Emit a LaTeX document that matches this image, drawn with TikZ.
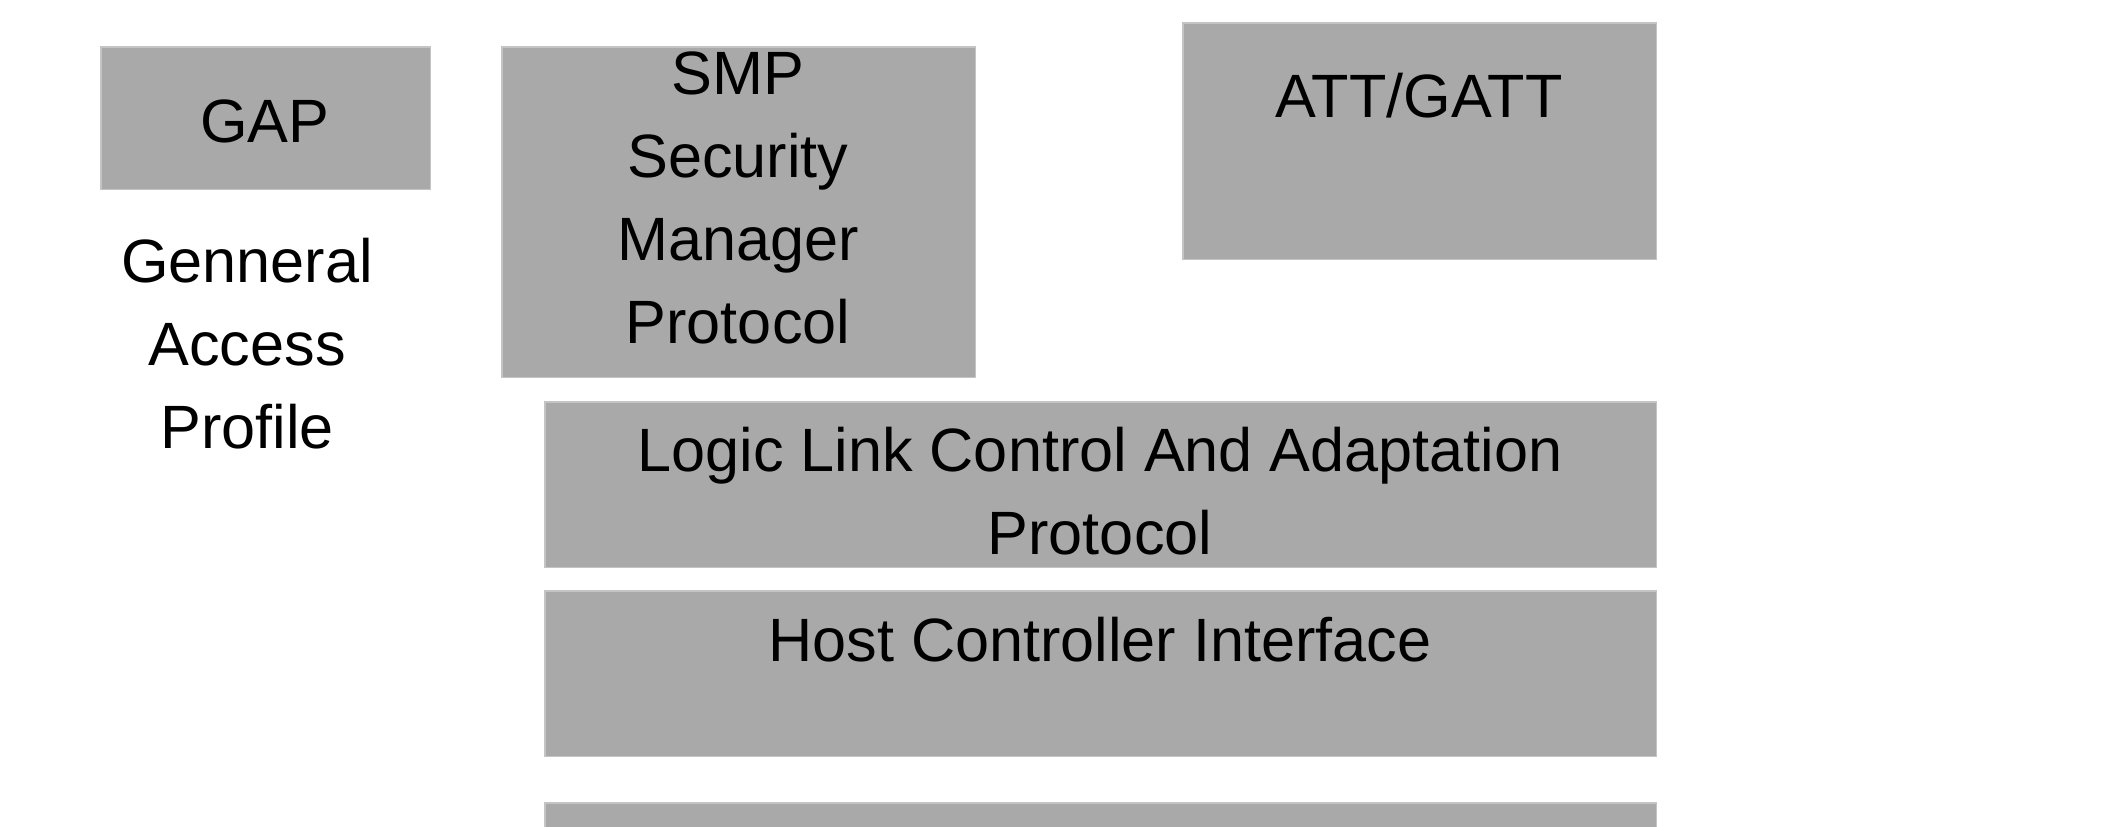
\documentclass[tikz,border=0pt]{standalone}
\usepackage{fontspec}
\setmainfont{Liberation Sans}
\usepackage{tikz}
\definecolor{boxgray}{HTML}{A9A9A9}
\definecolor{boxedge}{HTML}{C4C4C4}

\begin{document}
\begin{tikzpicture}[x=0.01cm, y=-0.01cm,
    every node/.append style={inner sep=0pt, outer sep=0pt},
    layer/.style={fill=boxgray, draw=boxedge, line width=0.3pt, anchor=north west},
    lbl/.style={anchor=base, align=center, font=\fontsize{17.4}{23.6}\selectfont}]
        \useasboundingbox (0,0) rectangle (2126,827);

        % protocol layers
        \node [layer, minimum width=3.29cm, minimum height=1.42cm] (GAP) at (101,47) {};
        \node [layer, minimum width=4.73cm, minimum height=3.30cm] (SMP) at (502,47) {};
        \node [layer, minimum width=4.73cm, minimum height=2.36cm] (ATT) at (1183,23) {};
        \node [layer, minimum width=11.11cm, minimum height=1.65cm] (LLCAP) at (545,402) {};
        \node [layer, minimum width=11.11cm, minimum height=1.65cm] (HCI) at (545,591) {};
        \node [layer, minimum width=11.11cm, minimum height=0.40cm] (PHY) at (545,803) {};

        % labels (base = last line)
        \node [lbl] (GAPt) at (265,142) {GAP};
        \node [lbl] (GAPd) at (247,448) {Genneral\\Access\\Profile};
        \node [lbl] (SMPt) at (738,343) {SMP\\Security\\Manager\\Protocol};
        \node [lbl] (ATTt) at (1419,117) {ATT/GATT};
        \node [lbl] (LLCAPt) at (1100,554) {Logic Link Control And Adaptation\\Protocol};
        \node [lbl] (HCIt) at (1100,661) {Host Controller Interface};
    \end{tikzpicture}
\end{document}
